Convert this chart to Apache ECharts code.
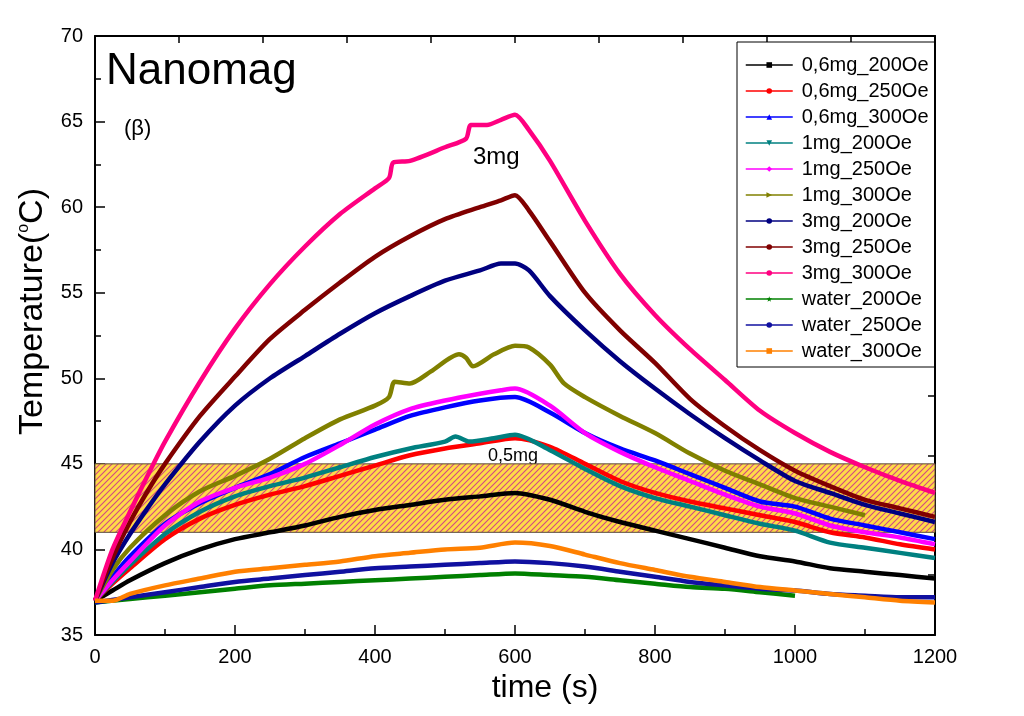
<!DOCTYPE html>
<html>
<head>
<meta charset="utf-8">
<script src="https://cdn.jsdelivr.net/npm/echarts@6/dist/echarts.min.js"></script>
<style>html,body{margin:0;padding:0;background:#fff;}#c{width:1024px;height:716px;}</style>
</head>
<body>
<div id="c"></div>
<script>
// ---- data: [time (s), temperature (°C)] ----
const s06_200 = [[0,37.0],[25,37.6],[50,38.2],[100,39.2],[150,40.0],[200,40.6],[250,41.0],[300,41.4],[350,41.9],[400,42.3],[450,42.6],[500,42.9],[550,43.1],[600,43.3],[650,42.9],[700,42.2],[750,41.6],[800,41.1],[850,40.6],[900,40.1],[950,39.6],[1000,39.3],[1050,38.9],[1100,38.7],[1150,38.5],[1200,38.3]];
const s06_250 = [[0,37.0],[25,38.0],[50,38.9],[100,40.6],[150,41.8],[200,42.6],[250,43.2],[300,43.7],[350,44.3],[400,44.9],[450,45.5],[500,45.9],[550,46.2],[600,46.5],[650,46.0],[700,45.0],[750,44.0],[800,43.3],[850,42.8],[900,42.4],[950,42.0],[1000,41.6],[1050,41.0],[1100,40.7],[1150,40.3],[1200,40.0]];
const s06_300 = [[0,37.0],[25,38.4],[50,39.6],[100,41.5],[150,42.7],[200,43.6],[250,44.4],[300,45.4],[350,46.2],[400,47.0],[450,47.8],[500,48.3],[550,48.7],[600,48.9],[650,48.0],[700,46.8],[750,45.9],[800,45.2],[850,44.4],[900,43.6],[950,42.8],[1000,42.5],[1050,41.8],[1100,41.4],[1150,41.0],[1200,40.6]];
const s1_200 = [[0,37.0],[25,38.1],[50,39.1],[100,40.9],[150,42.2],[200,43.1],[250,43.7],[300,44.2],[350,44.8],[400,45.4],[450,45.9],[500,46.3],[515,46.6],[535,46.3],[570,46.5],[600,46.7],[650,45.8],[700,44.7],[750,43.7],[800,43.0],[850,42.5],[900,42.0],[950,41.5],[1000,41.1],[1050,40.4],[1100,40.1],[1150,39.8],[1200,39.5]];
const s1_250 = [[0,37.0],[25,38.2],[50,39.3],[100,41.4],[150,42.8],[200,43.6],[250,44.2],[300,45.0],[350,46.1],[400,47.3],[450,48.2],[500,48.7],[550,49.1],[580,49.3],[600,49.4],[650,48.4],[700,46.8],[750,45.7],[800,44.8],[850,44.0],[900,43.2],[950,42.5],[1000,42.1],[1050,41.4],[1100,41.0],[1150,40.7],[1200,40.3]];
const s1_300 = [[0,37.0],[25,38.8],[50,40.1],[100,42.0],[150,43.4],[200,44.3],[250,45.3],[300,46.5],[350,47.6],[400,48.4],[420,48.9],[428,49.8],[450,49.7],[480,50.4],[520,51.4],[530,51.2],[540,50.7],[570,51.4],[600,51.9],[620,51.8],[650,50.8],[670,49.7],[700,48.9],[750,47.8],[800,46.8],[850,45.6],[900,44.6],[950,43.8],[1000,43.0],[1050,42.5],[1100,42.0]];
const s3_200 = [[0,37.0],[25,39.2],[50,40.9],[75,42.4],[100,43.8],[150,46.3],[200,48.4],[250,50.0],[300,51.3],[350,52.6],[400,53.8],[450,54.8],[500,55.7],[550,56.3],[580,56.7],[600,56.7],[620,56.3],[650,54.8],[700,52.8],[750,51.0],[800,49.4],[850,47.9],[900,46.5],[950,45.2],[1000,44.0],[1050,43.3],[1100,42.6],[1150,42.1],[1200,41.6]];
const s3_250 = [[0,37.0],[25,39.5],[50,41.6],[75,43.4],[100,45.0],[150,47.8],[200,50.1],[250,52.3],[300,54.0],[350,55.6],[400,57.1],[450,58.3],[500,59.3],[550,60.0],[580,60.4],[600,60.7],[620,59.8],[650,58.0],[700,55.0],[750,52.8],[800,50.9],[850,48.8],[900,47.2],[950,45.8],[1000,44.6],[1050,43.7],[1100,42.9],[1150,42.4],[1200,41.9]];
const s3_300 = [[0,37.0],[25,40.0],[50,42.2],[75,44.3],[100,46.3],[150,49.8],[200,52.9],[250,55.5],[300,57.7],[350,59.6],[400,61.1],[420,61.7],[426,62.6],[450,62.7],[500,63.5],[530,64.0],[537,64.8],[560,64.8],[580,65.1],[600,65.4],[620,64.5],[650,62.7],[700,59.2],[750,56.1],[800,53.7],[850,51.7],[900,49.9],[950,48.1],[1000,46.8],[1050,45.7],[1100,44.8],[1150,44.0],[1200,43.3]];
const sw_200 = [[0,36.9],[50,37.1],[100,37.3],[150,37.5],[200,37.7],[250,37.9],[300,38.0],[350,38.1],[400,38.2],[450,38.3],[500,38.4],[550,38.5],[600,38.6],[650,38.5],[700,38.4],[750,38.2],[800,38.0],[850,37.8],[900,37.7],[950,37.5],[1000,37.3]];
const sw_250 = [[0,36.9],[50,37.2],[100,37.5],[150,37.8],[200,38.1],[250,38.3],[300,38.5],[350,38.7],[400,38.9],[450,39.0],[500,39.1],[550,39.2],[600,39.3],[650,39.2],[700,39.0],[750,38.7],[800,38.4],[850,38.1],[900,37.9],[950,37.7],[1000,37.6],[1050,37.4],[1100,37.3],[1150,37.2],[1200,37.2]];
const sw_300 = [[0,37.0],[25,37.0],[50,37.4],[100,37.9],[150,38.3],[200,38.7],[250,38.9],[300,39.1],[350,39.3],[400,39.6],[450,39.8],[500,40.0],[550,40.1],[600,40.4],[650,40.2],[700,39.7],[750,39.2],[800,38.8],[850,38.4],[900,38.1],[950,37.8],[1000,37.6],[1050,37.4],[1100,37.2],[1150,37.0],[1200,36.9]];

const seriesNames = ['0,6mg_200Oe','0,6mg_250Oe','0,6mg_300Oe','1mg_200Oe','1mg_250Oe','1mg_300Oe','3mg_200Oe','3mg_250Oe','3mg_300Oe','water_200Oe','water_250Oe','water_300Oe'];
const seriesData = [s06_200, s06_250, s06_300, s1_200, s1_250, s1_300, s3_200, s3_250, s3_300, sw_200, sw_250, sw_300];
const seriesColors = ['#000000','#FF0000','#0000FF','#008080','#FF00FF','#808000','#000080','#800000','#FF0080','#008000','#1010A0','#FF8000'];
const seriesSymbols = ['rect','circle','triangle','path://M0,0L10,0L5,10Z','diamond','path://M0,0L10,5L0,10Z','circle','circle','circle','path://M5,0L6.2,3.6L10,3.6L7,5.9L8.1,9.5L5,7.3L1.9,9.5L3,5.9L0,3.6L3.8,3.6Z','circle','rect'];
const bandRange = [41, 45];
const xTicks = {min: 0, max: 1200, interval: 200};
const yTicks = {min: 35, max: 70, interval: 5};

// hatch pattern
const pc = document.createElement('canvas');
pc.width = 6; pc.height = 6;
const g = pc.getContext('2d');
g.fillStyle = '#FFDA48'; g.fillRect(0,0,6,6);
g.strokeStyle = '#D24A82'; g.lineWidth = 1.1;
g.beginPath();
g.moveTo(-1,7); g.lineTo(7,-1);
g.moveTo(-4,4); g.lineTo(4,-4);
g.moveTo(2,10); g.lineTo(10,2);
g.stroke();

const FONT = "'Liberation Sans', Arial, sans-serif";
const chart = echarts.init(document.getElementById('c'), null, {renderer: 'canvas'});

const series = [{
  type: 'line', name: '_band', data: [], z: 1, silent: true,
  xAxisIndex: 0, yAxisIndex: 0,
  markArea: {
    silent: true,
    itemStyle: {color: {image: pc, repeat: 'repeat'}, borderColor: '#5a4a3a', borderWidth: 1},
    data: [[{xAxis: xTicks.min, yAxis: bandRange[0]}, {xAxis: xTicks.max, yAxis: bandRange[1]}]]
  }
}];
seriesNames.forEach((n, i) => {
  series.push({
    type: 'line', name: n, data: seriesData[i], z: 3,
    xAxisIndex: 0, yAxisIndex: 0, smooth: 0.25,
    showSymbol: false, symbol: seriesSymbols[i], symbolSize: 6,
    color: seriesColors[i],
    lineStyle: {width: 4.5, color: seriesColors[i]},
    itemStyle: {color: seriesColors[i]},
    animation: false
  });
});

chart.setOption({
  animation: false,
  backgroundColor: '#fff',
  grid: {left: 95, right: 89, top: 36, bottom: 81, show: false},
  legend: {
    data: seriesNames, orient: 'vertical', left: 737, top: 42,
    padding: [13, 6, 6, 8], itemGap: 6, itemWidth: 47, itemHeight: 7,
    borderColor: '#000', borderWidth: 1, backgroundColor: '#fff',
    lineStyle: {width: 1.5},
    textStyle: {fontFamily: FONT, fontSize: 20, color: '#000', padding: [0,0,0,4], lineHeight: 20, height: 20},
    selectedMode: false
  },
  xAxis: [{
    type: 'value', min: xTicks.min, max: xTicks.max, interval: xTicks.interval,
    name: 'time (s)', nameLocation: 'middle', nameGap: 34,
    nameTextStyle: {fontFamily: FONT, fontSize: 32, color: '#000', padding: [0,0,0,60]},
    axisLine: {lineStyle: {color: '#000', width: 2}},
    axisTick: {inside: true, length: 10, lineStyle: {color: '#000', width: 1.5}},
    minorTick: {show: true, splitNumber: 2, length: 6, lineStyle: {color: '#000', width: 1.5}},
    axisLabel: {fontFamily: FONT, fontSize: 20, color: '#000', margin: 12, formatter: v => String(v)},
    splitLine: {show: false}
  }, {
    type: 'value', position: 'top', min: 0, max: 10, interval: 1,
    axisLine: {show: true, onZero: false, lineStyle: {color: '#000', width: 2}},
    axisTick: {inside: true, length: 7, lineStyle: {color: '#000', width: 1.5}},
    axisLabel: {show: false}, splitLine: {show: false}
  }],
  yAxis: [{
    type: 'value', min: yTicks.min, max: yTicks.max, interval: yTicks.interval,
    name: 'Temperature({s|o}C)', nameLocation: 'middle', nameGap: 44, nameRotate: 90,
    nameTextStyle: {fontFamily: FONT, fontSize: 34, color: '#000', padding: [0,0,0,48],
      rich: {s: {fontFamily: FONT, fontSize: 16, color: '#000', verticalAlign: 'top', padding: [0,0,16,0]}}},
    axisLine: {lineStyle: {color: '#000', width: 2}},
    axisTick: {inside: true, length: 10, lineStyle: {color: '#000', width: 1.5}},
    minorTick: {show: true, splitNumber: 2, length: 6, lineStyle: {color: '#000', width: 1.5}},
    axisLabel: {fontFamily: FONT, fontSize: 20, color: '#000', margin: 12},
    splitLine: {show: false}
  }, {
    type: 'value', position: 'right', min: 0, max: 10, interval: 1,
    axisLine: {show: true, onZero: false, lineStyle: {color: '#000', width: 2}},
    axisTick: {inside: true, length: 7, lineStyle: {color: '#000', width: 1.5}},
    axisLabel: {show: false}, splitLine: {show: false}
  }],
  graphic: [
    {type: 'text', left: 106, top: 50, style: {text: 'Nanomag', font: '44px ' + FONT, fill: '#000'}},
    {type: 'text', left: 124, top: 118, style: {text: '(β)', font: '22px ' + FONT, fill: '#000'}},
    {type: 'text', left: 473, top: 145, style: {text: '3mg', font: '24px ' + FONT, fill: '#000'}},
    {type: 'text', left: 488, top: 447, style: {text: '0,5mg', font: '18px ' + FONT, fill: '#000'}}
  ],
  series: series
});
</script>
</body>
</html>
